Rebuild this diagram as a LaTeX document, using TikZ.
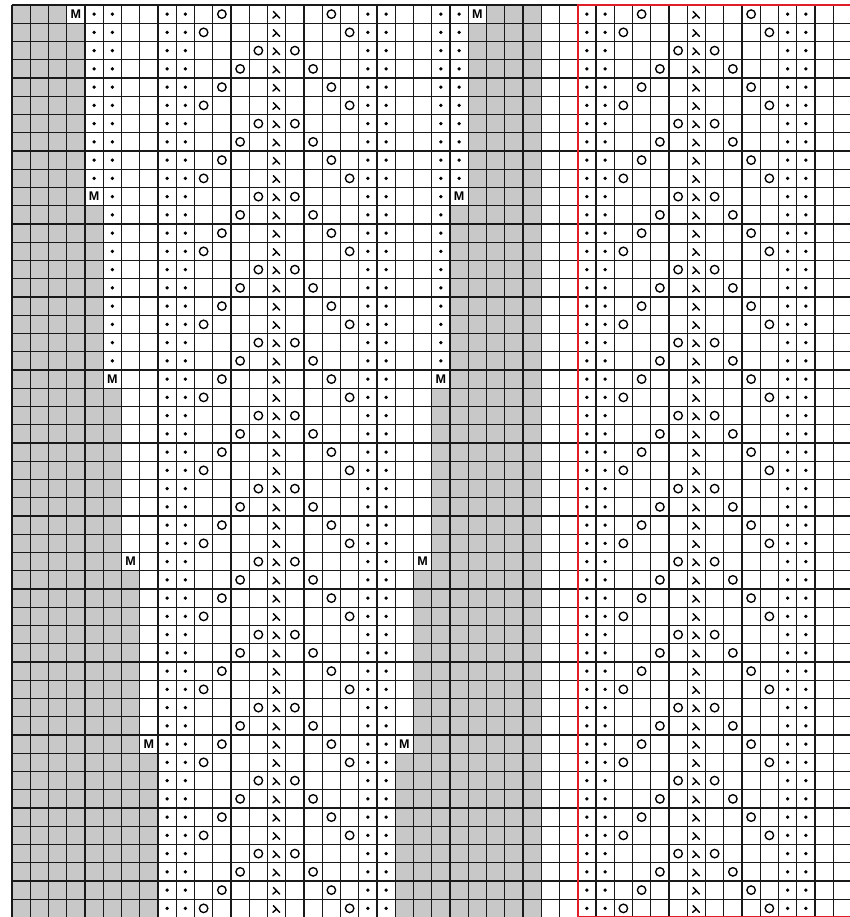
\documentclass[tikz,border=0pt]{standalone}
\usepackage{fontspec}
\setmainfont{Liberation Sans}
\definecolor{cellgray}{RGB}{200,200,200}
\definecolor{gridline}{RGB}{25,25,25}
\definecolor{repred}{RGB}{225,30,40}
\begin{document}
\begin{tikzpicture}[x=0.5cm,y=-0.5cm,
  gridstyle/.style={draw=gridline,line width=0.9pt},
  graycell/.style={fill=cellgray},
  knitdot/.style={fill=black},
  yarnover/.style={draw=black,line width=1.05pt},
  markM/.style={font=\fontsize{9.8}{10}\selectfont\bfseries,inner sep=0pt,text=black},
  redbox/.style={draw=repred,line width=1.7pt},
  decstroke/.style={draw=black,line width=1.1pt,line cap=round},
  dec/.pic={\draw[decstroke] (-0.18,-0.15) -- (0.17,0.22); \draw[decstroke] (0.0,0.04) -- (-0.21,0.22);}
]
\useasboundingbox (-0.658,-0.274) rectangle (45.917,49.973);
\clip (-0.658,-0.274) rectangle (45.917,49.973);
\fill[white] (-0.658,-0.274) rectangle (45.917,49.973);
% gray edge areas and markers
\foreach \b in {0,...,4}{
  \pgfmathtruncatemacro\rt{10*\b}
  \pgfmathtruncatemacro\rs{10*\b+1}
  \pgfmathtruncatemacro\re{10*\b+10}
  \pgfmathtruncatemacro\la{3+\b}
  \pgfmathtruncatemacro\lb{4+\b}
  \pgfmathtruncatemacro\ra{26-\b}
  \pgfmathtruncatemacro\rb{25-\b}
  \fill[graycell] (0,\rt) rectangle (\la,\rs);
  \fill[graycell] (0,\rs) rectangle (\lb,\re);
  \fill[graycell] (\ra,\rt) rectangle (29,\rs);
  \fill[graycell] (\rb,\rs) rectangle (29,\re);
  \node[markM] (ml\b) at (\la+0.5,\rt+0.5) {M};
  \node[markM] (mr\b) at (\rb+0.5,\rt+0.5) {M};
}
% grid
\foreach \i in {0,...,50}{\draw[gridstyle] (0,\i) -- (47,\i);}
\foreach \j in {0,...,46}{\draw[gridstyle] (\j,0) -- (\j,50);}
% symbols
\foreach \r in {1,...,50}{
  \pgfmathtruncatemacro\bk{div(\r-1,10)}
  \pgfmathtruncatemacro\dd{mod(\r+1,4)+1}
  \pgfmathtruncatemacro\lo{3+\bk}
  \pgfmathtruncatemacro\hi{25-\bk}
  \foreach \c in {4,5,8,9,19,20,23,24}{
    \ifnum\c>\lo\relax\ifnum\c<\hi\relax
      \fill[knitdot] (\c+0.5,\r-0.5) circle[radius=1.4pt];
    \fi\fi
  }
  \foreach \c in {31,32,42,43}{
    \fill[knitdot] (\c+0.5,\r-0.5) circle[radius=1.4pt];
  }
  \foreach \m in {14,37}{
    \pic at (\m+0.5,\r-0.5) {dec};
    \draw[yarnover] (\m-\dd+0.5,\r-0.5) circle[radius=3.3pt];
    \draw[yarnover] (\m+\dd+0.5,\r-0.5) circle[radius=3.3pt];
  }
}
% repeat frame
\draw[redbox] (31,0) rectangle (48,50);
\end{tikzpicture}
\end{document}
